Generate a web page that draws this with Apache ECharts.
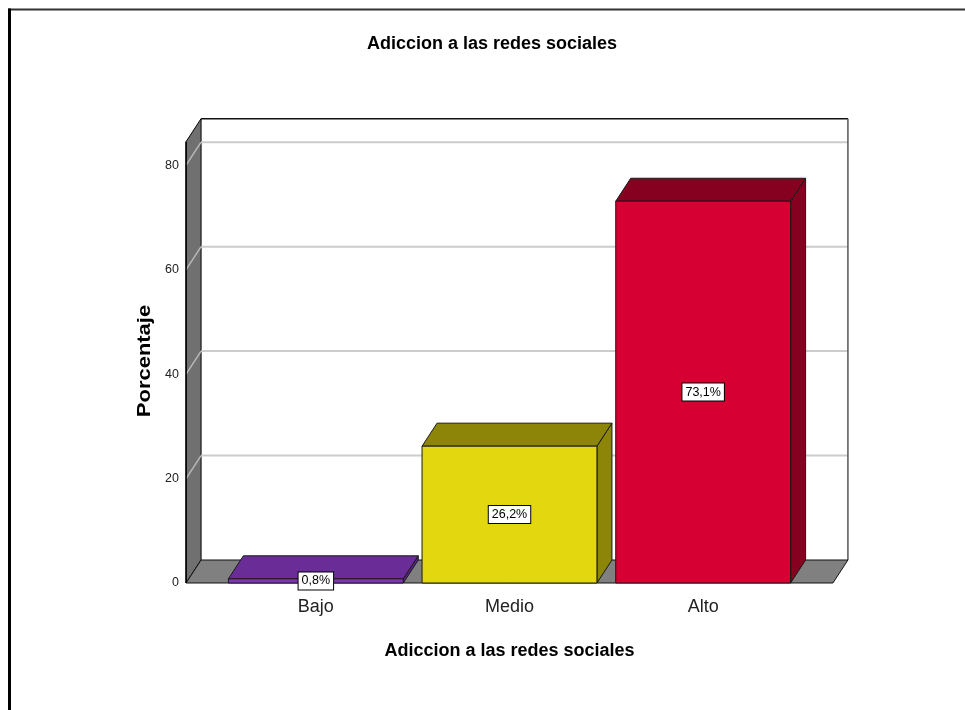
<!DOCTYPE html>
<html>
<head>
<meta charset="utf-8">
<title>Adiccion a las redes sociales</title>
<script src="https://cdn.jsdelivr.net/npm/echarts@6/dist/echarts.min.js"></script>
<style>
  html, body { margin: 0; padding: 0; background: #ffffff; }
  #chart { width: 965px; height: 710px; }
</style>
</head>
<body>
<div id="chart"></div>
<script>
// Categories and percentages
const categories = ['Bajo', 'Medio', 'Alto'];
const percentages = [0.8, 26.2, 73.1];
const yTicks = [0, 20, 40, 60, 80];

// Face colours for each bar: front, top, side
const frontColors = ['#7e34b8', '#e3d70f', '#d70032'];
const topColors = ['#6a2d98', '#8c8508', '#86001f'];
const sideColors = ['#5c2685', '#8c8508', '#86001f'];

const FONT = '"Liberation Sans", Arial, sans-serif';
const DX = 15;    // 3D depth, horizontal
const DY = -23;   // 3D depth, vertical
const SIDE_PAD = 0.17; // floor margin beyond the outer bands, as a fraction of a band

const chart = echarts.init(document.getElementById('chart'), null, { renderer: 'canvas' });

function fmt(v) {
  return v.toFixed(1).replace('.', ',') + '%';
}

// Walls, floor and gridlines of the 3D box
function renderFrame(params, api) {
  const cs = params.coordSys;
  const band = api.size([1, 0])[0];
  const pad = band * SIDE_PAD;
  const L = cs.x - pad;
  const R = cs.x + cs.width + pad;
  const y0 = api.coord([0, 0])[1];
  const yT = cs.y;
  const children = [];

  // back wall
  children.push({
    type: 'rect',
    shape: { x: L + DX, y: yT + DY, width: R - L, height: y0 - yT },
    style: { fill: '#ffffff', stroke: null }
  });
  // left wall
  children.push({
    type: 'polygon',
    shape: { points: [[L, y0], [L + DX, y0 + DY], [L + DX, yT + DY], [L, yT]] },
    style: { fill: '#707070', stroke: '#000', lineWidth: 1 }
  });
  // gridlines across back and left walls
  yTicks.forEach(function (v) {
    if (v === 0) return;
    const y = api.coord([0, v])[1];
    children.push({
      type: 'line',
      shape: { x1: L + DX, y1: y + DY, x2: R + DX, y2: y + DY },
      style: { stroke: '#cccccc', lineWidth: 2 }
    });
    children.push({
      type: 'line',
      shape: { x1: L, y1: y, x2: L + DX, y2: y + DY },
      style: { stroke: '#b8b8b8', lineWidth: 1.5 }
    });
  });
  // back wall top and right edges
  children.push({
    type: 'line',
    shape: { x1: L + DX, y1: yT + DY, x2: R + DX, y2: yT + DY },
    style: { stroke: '#111', lineWidth: 1.5 }
  });
  children.push({
    type: 'line',
    shape: { x1: R + DX, y1: yT + DY, x2: R + DX, y2: y0 + DY },
    style: { stroke: '#555', lineWidth: 1.5 }
  });
  // floor
  children.push({
    type: 'polygon',
    shape: { points: [[L, y0], [R, y0], [R + DX, y0 + DY], [L + DX, y0 + DY]] },
    style: { fill: '#808080', stroke: '#111', lineWidth: 1 }
  });
  // front edge of the left wall
  children.push({
    type: 'line',
    shape: { x1: L, y1: yT, x2: L, y2: y0 },
    style: { stroke: '#000', lineWidth: 1.5 }
  });
  return { type: 'group', children: children };
}

// One 3D bar with its value label
function renderBar(params, api) {
  const i = api.value(0);
  const val = api.value(1);
  const base = api.coord([i, 0]);
  const top = api.coord([i, val]);
  const bw = api.size([1, 0])[0] * 0.903;
  const x0 = base[0] - bw / 2;
  const x1 = base[0] + bw / 2;
  const yb = base[1];
  const yt = top[1];
  const edge = { stroke: '#1a1a1a', lineWidth: 1 };
  return {
    type: 'group',
    children: [
      {
        type: 'polygon',
        shape: { points: [[x1, yt], [x1 + DX, yt + DY], [x1 + DX, yb + DY], [x1, yb]] },
        style: Object.assign({ fill: sideColors[i] }, edge)
      },
      {
        type: 'polygon',
        shape: { points: [[x0, yt], [x0 + DX, yt + DY], [x1 + DX, yt + DY], [x1, yt]] },
        style: Object.assign({ fill: topColors[i] }, edge)
      },
      {
        type: 'rect',
        shape: { x: x0, y: yt, width: bw, height: yb - yt },
        style: Object.assign({ fill: frontColors[i] }, edge)
      },
      {
        type: 'text',
        x: base[0],
        y: (yt + yb) / 2,
        z2: 10,
        style: {
          text: fmt(val),
          font: '12.5px ' + FONT,
          fill: '#000',
          align: 'center',
          verticalAlign: 'middle',
          backgroundColor: '#ffffff',
          borderColor: '#000',
          borderWidth: 1,
          padding: [2, 3, 2, 3]
        }
      }
    ]
  };
}

const option = {
  backgroundColor: '#ffffff',
  animation: false,
  title: {
    text: 'Adiccion a las redes sociales',
    left: 367,
    top: 35,
    padding: 0,
    textStyle: { fontFamily: FONT, fontSize: 18, fontWeight: 'bold', color: '#000' }
  },
  grid: { left: 219, right: 165, top: 141.7, bottom: 127 },
  xAxis: {
    type: 'category',
    data: categories,
    axisLine: { show: false },
    axisTick: { show: false },
    axisLabel: { margin: 15, fontFamily: FONT, fontSize: 18, color: '#222' },
    name: 'Adiccion a las redes sociales',
    nameLocation: 'middle',
    nameGap: 59,
    nameTextStyle: { fontFamily: FONT, fontSize: 18, fontWeight: 'bold', color: '#000', verticalAlign: 'top' }
  },
  yAxis: {
    type: 'value',
    min: 0,
    max: 84.5,
    interval: 20,
    offset: 33,
    axisLine: { show: false },
    axisTick: { show: false },
    splitLine: { show: false },
    axisLabel: {
      margin: 7,
      fontFamily: FONT,
      fontSize: 12.5,
      color: '#222',
      customValues: yTicks
    }
  },
  graphic: [
    {
      type: 'text',
      x: 145,
      y: 361,
      rotation: Math.PI / 2,
      scaleX: 1.22,
      style: {
        text: 'Porcentaje',
        font: 'bold 18px ' + FONT,
        fill: '#000',
        align: 'center',
        verticalAlign: 'middle'
      }
    },
    {
      type: 'line',
      shape: { x1: 8, y1: 9.5, x2: 965, y2: 9.5 },
      style: { stroke: '#333', lineWidth: 2 }
    },
    {
      type: 'line',
      shape: { x1: 9.5, y1: 8.5, x2: 9.5, y2: 710 },
      style: { stroke: '#000', lineWidth: 3 }
    }
  ],
  series: [
    {
      type: 'custom',
      name: 'frame',
      clip: false,
      silent: true,
      z: 1,
      renderItem: renderFrame,
      data: [[0, 0]]
    },
    {
      type: 'custom',
      name: 'Porcentaje',
      clip: false,
      z: 2,
      renderItem: renderBar,
      data: categories.map(function (c, i) { return [i, percentages[i]]; })
    }
  ]
};

chart.setOption(option);
</script>
</body>
</html>
